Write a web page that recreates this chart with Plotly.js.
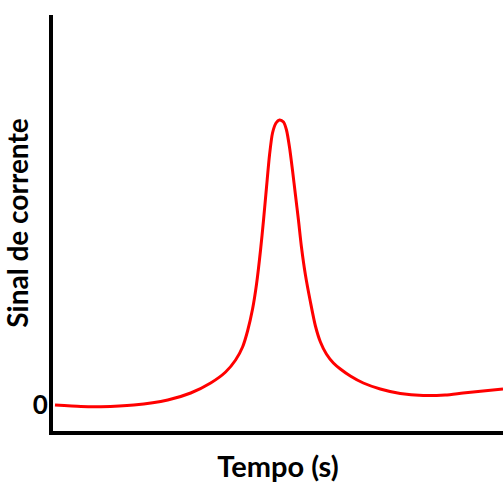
<!DOCTYPE html>
<html>
<head>
<meta charset="utf-8">
<script src="https://cdn.plot.ly/plotly-3.0.1.min.js"></script>
<style>html,body{margin:0;padding:0;background:#fff;}#chart{width:503px;height:485px;}</style>
</head>
<body>
<div id="chart"></div>
<script>
// Time (s) and current signal (arbitrary units)
const tempo = [0.2, 2.8, 4.8, 8.1, 11.5, 13.8, 15.8, 17.3, 18.3, 19.0, 19.5, 20.0, 20.4, 20.8, 21.1, 21.4, 21.7, 22.0, 22.35, 22.7, 23.1, 23.4, 23.7, 24.0, 24.3, 24.6, 24.9, 25.3, 25.8, 26.3, 26.8, 27.4, 28.1, 28.8, 29.8, 31.1, 32.8, 34.8, 37.1, 39.3, 41.1, 43.1, 45.1];
const sinal = [0, -1.5, -1.7, 0, 5, 12, 22, 33, 45, 58, 74, 96, 121, 155, 185, 218, 250, 272, 282, 285, 283, 275, 258, 235, 210, 185, 158, 130, 103, 79, 63, 51, 42, 36, 29, 22, 16, 11.5, 9.5, 10, 12, 14, 16];
const yTicks = [0];
const yTickText = ["0"];

const font = "Lato, 'Open Sans', sans-serif";
const data = [{
  x: tempo, y: sinal, type: 'scatter', mode: 'lines',
  line: {color: '#ff0000', width: 3, shape: 'spline', smoothing: 0.7},
  hoverinfo: 'skip'
}];
const layout = {
  width: 503, height: 485,
  margin: {l: 53, r: 0, t: 15, b: 54},
  paper_bgcolor: '#fff', plot_bgcolor: '#fff',
  showlegend: false,
  xaxis: {
    range: [0, 45.1], showgrid: false, zeroline: false,
    showline: true, linecolor: '#000', linewidth: 4,
    showticklabels: false, ticks: '',
    title: {text: '<b>Tempo (s)</b>', font: {family: font, size: 29, color: '#000'}, standoff: 24}
  },
  yaxis: {
    range: [-26, 390], showgrid: false, zeroline: false,
    showline: true, linecolor: '#000', linewidth: 4,
    tickvals: yTicks, ticktext: yTickText.map(t => '<b>' + t + '</b>'), ticks: '',
    ticklabelstandoff: -4,
    tickfont: {family: font, size: 26, color: '#000'},
    title: {text: '<b>Sinal de corrente</b>', font: {family: font, size: 28, color: '#000'}, standoff: 0}
  }
};
Plotly.newPlot('chart', data, layout, {displayModeBar: false, staticPlot: true});
</script>
</body>
</html>
